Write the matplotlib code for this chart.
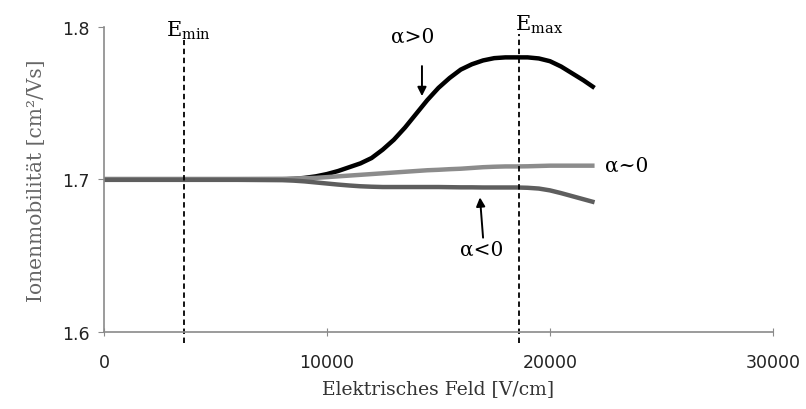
import matplotlib.pyplot as plt
import numpy as np

plt.rcParams['mathtext.fontset'] = 'custom'
plt.rcParams['mathtext.rm'] = 'DejaVu Serif'

# field strength [V/cm]
feld = [0, 2000, 4000, 6000, 8000, 8500, 9000, 9500, 10000, 10500, 11000, 11500,
        12000, 12500, 13000, 13500, 14000, 14500, 15000, 15500, 16000, 16500,
        17000, 17500, 18000, 18500, 19000, 19500, 20000, 20500, 21000, 21500, 22000]
# alpha > 0
mob_pos = [1.700, 1.700, 1.700, 1.700, 1.700, 1.7003, 1.701, 1.702, 1.7035, 1.7055, 1.708, 1.7105,
           1.714, 1.7195, 1.726, 1.734, 1.743, 1.752, 1.760, 1.7665, 1.772, 1.7755,
           1.778, 1.7795, 1.780, 1.780, 1.780, 1.7793, 1.7775, 1.774, 1.7695, 1.765, 1.760]
# alpha ~ 0
mob_null = [1.7003, 1.7003, 1.7003, 1.7003, 1.7004, 1.7006, 1.7008, 1.701, 1.7015, 1.702, 1.7025, 1.703,
            1.7035, 1.704, 1.7045, 1.705, 1.7055, 1.706, 1.7063, 1.7067, 1.707, 1.7075,
            1.708, 1.7083, 1.7085, 1.7085, 1.7086, 1.7088, 1.709, 1.709, 1.709, 1.709, 1.709]
# alpha < 0
mob_neg = [1.6997, 1.6997, 1.6997, 1.6997, 1.6995, 1.6992, 1.6987, 1.698, 1.6973, 1.6966, 1.696, 1.6955,
           1.6952, 1.695, 1.695, 1.695, 1.695, 1.695, 1.695, 1.6949, 1.6948, 1.6948,
           1.6947, 1.6947, 1.6947, 1.6947, 1.6945, 1.694, 1.6928, 1.691, 1.689, 1.687, 1.685]

e_min = 3600
e_max = 18600

serif = ['DejaVu Serif']
sans = ['DejaVu Sans']

fig = plt.figure(figsize=(8.06, 4.10), dpi=100)
ax = fig.add_axes([0.129, 0.188, 0.83, 0.744])

ax.plot(feld, mob_pos, color='black', lw=3.2, solid_capstyle='butt')
ax.plot(feld, mob_null, color='#8c8c8c', lw=3.2, solid_capstyle='butt')
ax.plot(feld, mob_neg, color='#5e5e5e', lw=3.2, solid_capstyle='butt')

ax.plot([e_min, e_min], [1.593, 1.7915], color='black', lw=1.3, ls=(0, (3, 2)), clip_on=False)
ax.plot([e_max, e_max], [1.593, 1.7955], color='black', lw=1.3, ls=(0, (3, 2)), clip_on=False)

ax.set_xlim(0, 30000)
ax.set_ylim(1.6, 1.8)
ax.set_xticks([0, 10000, 20000, 30000])
ax.set_yticks([1.6, 1.7, 1.8])
ax.set_yticklabels(['1.6', '1.7', '1.8'])

for s in ['top', 'right']:
    ax.spines[s].set_visible(False)
for s in ['left', 'bottom']:
    ax.spines[s].set_color('#8a8a8a')
    ax.spines[s].set_linewidth(1.2)

ax.tick_params(axis='x', direction='inout', length=6, color='#8a8a8a', pad=12)
ax.tick_params(axis='y', direction='out', length=4, color='#8a8a8a', pad=6)
for lab in ax.get_xticklabels() + ax.get_yticklabels():
    lab.set_family(sans)
    lab.set_fontsize(12.5)
    lab.set_color('#222222')

ax.set_xlabel('Elektrisches Feld [V/cm]', family=serif, fontsize=13.5, color='#333333', labelpad=6)
ax.set_ylabel('Ionenmobilität [cm²/Vs]', family=serif, fontsize=14.5, color='#666666', labelpad=12)

ax.text(e_min - 800, 1.7945, r'E$_{\mathrm{min}}$', family=serif, fontsize=15, ha='left', va='baseline')
ax.text(e_max - 150, 1.7985, r'E$_{\mathrm{max}}$', family=serif, fontsize=15, ha='left', va='baseline')

ax.text(13850, 1.794, 'α>0', family=serif, fontsize=14.5, ha='center', va='center')
ax.annotate('', xy=(14260, 1.7546), xytext=(14260, 1.7743),
            arrowprops=dict(arrowstyle='-|>', color='black', lw=1.4, mutation_scale=13,
                            shrinkA=0, shrinkB=0))
ax.text(22450, 1.7095, 'α~0', family=serif, fontsize=14.5, ha='left', va='center')
ax.text(16950, 1.654, 'α<0', family=serif, fontsize=14.5, ha='center', va='center')
ax.annotate('', xy=(16860, 1.6882), xytext=(17000, 1.6618),
            arrowprops=dict(arrowstyle='-|>', color='black', lw=1.4, mutation_scale=13,
                            shrinkA=0, shrinkB=0))

fig.savefig('out.png', dpi=100)
